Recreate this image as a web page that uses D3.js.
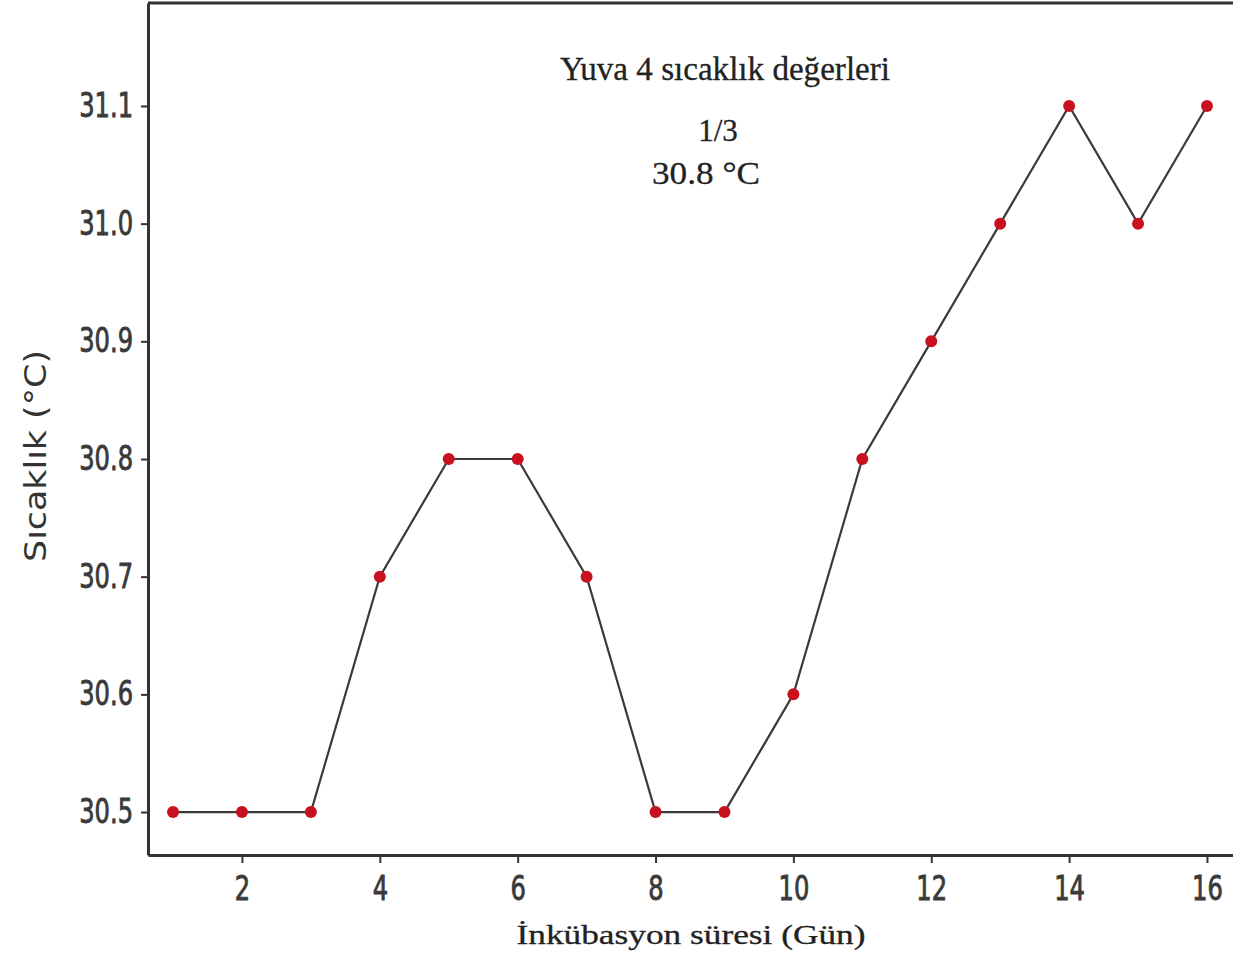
<!DOCTYPE html>
<html>
<head>
<meta charset="utf-8">
<script src="https://cdn.jsdelivr.net/npm/d3@7"></script>
<style>
  body { margin: 0; background: #fff; }
  .axis text { font-family: "DejaVu Sans Condensed", "DejaVu Sans", sans-serif; font-size: 28px; fill: #3a3a3a; stroke: #3a3a3a; stroke-width: 0.7px; }
  .axis path, .axis line { stroke: #333; }
</style>
</head>
<body>
<svg id="chart"></svg>
<script>
// incubation day and nest temperature
const days = [1, 2, 3, 4, 5, 6, 7, 8, 9, 10, 11, 12, 13, 14, 15, 16];
const temps = [30.5, 30.5, 30.5, 30.7, 30.8, 30.8, 30.7, 30.5, 30.5, 30.6, 30.8, 30.9, 31.0, 31.1, 31.0, 31.1];
const xTicks = [2, 4, 6, 8, 10, 12, 14, 16];
const yTicks = [30.5, 30.6, 30.7, 30.8, 30.9, 31.0, 31.1];

const width = 1233, height = 957;
const margin = { top: 3, right: 0, left: 148, bottom: 102 };

const svg = d3.select('#chart')
    .attr('width', width)
    .attr('height', height);

// plot area runs past the right edge, as in the picture
const plotW = 1100;
const plotH = height - margin.top - margin.bottom;

const chart = svg.append('g')
    .attr('transform', `translate(${margin.left}, ${margin.top})`);

const xScale = d3.scaleLinear()
    .domain([0.637, 0.637 + plotW / 68.93])
    .range([0, plotW]);

const yScale = d3.scaleLinear()
    .domain([30.4635, 31.1875])
    .range([plotH, 0]);

// frame (top + right)
chart.append('path')
    .attr('d', `M0,0H${plotW}V${plotH}`)
    .attr('fill', 'none')
    .attr('stroke', '#333')
    .attr('stroke-width', 3);

const xAxis = chart.append('g')
    .attr('class', 'axis x-axis')
    .attr('transform', `translate(0, ${plotH})`)
    .call(d3.axisBottom(xScale).tickValues(xTicks).tickSize(8).tickPadding(10).tickSizeOuter(0));
xAxis.select('.domain').attr('stroke-width', 3);
xAxis.selectAll('.tick line').attr('stroke-width', 2);

const yAxis = chart.append('g')
    .attr('class', 'axis y-axis')
    .call(d3.axisLeft(yScale).tickValues(yTicks).tickFormat(d3.format('.1f')).tickSize(7).tickPadding(6).tickSizeOuter(0));
yAxis.select('.domain').attr('stroke-width', 3);
yAxis.selectAll('.tick line').attr('stroke-width', 2);

// squeeze tick labels to the narrow, tall look of the picture
xAxis.selectAll('.tick text').attr('transform', 'scale(0.96,1.18)').attr('dy', '0.71em');
yAxis.selectAll('.tick text').attr('transform', 'scale(0.96,1.18)')
    .attr('x', -15 / 0.96);

const pts = days.map((d, i) => ({ day: d, t: temps[i] }));

chart.append('path')
    .datum(pts)
    .attr('fill', 'none')
    .attr('stroke', '#3a3a3a')
    .attr('stroke-width', 2.2)
    .attr('d', d3.line().x(d => xScale(d.day)).y(d => yScale(d.t)));

chart.selectAll('circle')
    .data(pts)
    .join('circle')
    .attr('cx', d => xScale(d.day))
    .attr('cy', d => yScale(d.t))
    .attr('r', 6)
    .attr('fill', '#c8101e');

// titles
const serif = '"Liberation Serif", "DejaVu Serif", serif';
svg.append('text')
    .attr('x', 725).attr('y', 80)
    .attr('text-anchor', 'middle')
    .attr('textLength', 330).attr('lengthAdjust', 'spacingAndGlyphs')
    .style('font-family', serif).style('font-size', '33px').style('fill', '#222')
    .style('stroke', '#222').style('stroke-width', '0.3px')
    .text('Yuva 4 sıcaklık değerleri');
svg.append('text')
    .attr('x', 718).attr('y', 141)
    .attr('text-anchor', 'middle')
    .style('font-family', serif).style('font-size', '31px').style('fill', '#222')
    .style('stroke', '#222').style('stroke-width', '0.3px')
    .text('1/3');
svg.append('text')
    .attr('x', 706).attr('y', 184)
    .attr('text-anchor', 'middle')
    .attr('textLength', 108).attr('lengthAdjust', 'spacingAndGlyphs')
    .style('font-family', serif).style('font-size', '31px').style('fill', '#222')
    .style('stroke', '#222').style('stroke-width', '0.3px')
    .text('30.8 °C');

svg.append('text')
    .attr('x', 691).attr('y', 944)
    .attr('text-anchor', 'middle')
    .attr('textLength', 349).attr('lengthAdjust', 'spacingAndGlyphs')
    .style('font-family', serif).style('font-size', '28px').style('fill', '#222')
    .style('stroke', '#222').style('stroke-width', '0.3px')
    .text('İnkübasyon süresi (Gün)');

svg.append('text')
    .attr('transform', 'translate(46, 456) rotate(-90)')
    .attr('text-anchor', 'middle')
    .attr('textLength', 212).attr('lengthAdjust', 'spacingAndGlyphs')
    .style('font-family', '"DejaVu Sans Condensed", "DejaVu Sans", sans-serif')
    .style('font-size', '30px').style('fill', '#333')
    .text('Sıcaklık (°C)');
</script>
</body>
</html>
